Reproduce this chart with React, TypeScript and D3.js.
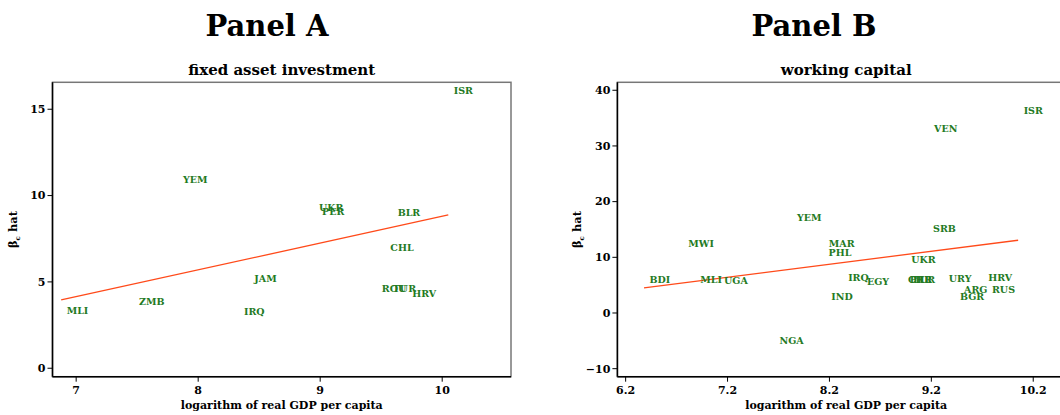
import React from "react";
import * as d3 from "d3";

// ---------- data ----------
const panelACountries = ["ISR", "YEM", "UKR", "PER", "BLR", "CHL", "JAM", "ROU", "TUR", "HRV", "ZMB", "MLI", "IRQ"];
const panelAX = [10.05, 7.83, 8.945, 8.97, 9.59, 9.53, 8.415, 9.46, 9.55, 9.71, 7.47, 6.877, 8.33];
const panelAY = [16.1, 10.94, 9.3, 9.05, 9.03, 6.98, 5.19, 4.61, 4.61, 4.34, 3.88, 3.36, 3.3];

const panelBCountries = ["ISR", "VEN", "YEM", "SRB", "MWI", "MAR", "PHL", "UKR", "BDI", "MLI", "UGA", "IRQ", "EGY", "CHL", "PER", "TUR", "URY", "HRV", "ARG", "RUS", "BGR", "IND", "NGA"];
const panelBX = [10.052, 9.173, 7.827, 9.163, 6.761, 8.14, 8.137, 8.949, 6.38, 6.878, 7.112, 8.33, 8.514, 8.916, 8.935, 8.955, 9.317, 9.704, 9.467, 9.741, 9.427, 8.164, 7.656];
const panelBY = [36.4, 33.19, 17.2, 15.21, 12.39, 12.52, 10.9, 9.65, 6.06, 6.06, 5.88, 6.41, 5.58, 6.06, 6.06, 6.06, 6.23, 6.41, 4.26, 4.26, 2.99, 2.99, -4.89];

const panelATicksX = [7, 8, 9, 10];
const panelATicksY = [0, 5, 10, 15];
const panelBTicksX = [6.2, 7.2, 8.2, 9.2, 10.2];
const panelBTicksY = [-10, 0, 10, 20, 30, 40];

const panelTitles = ["Panel A", "Panel B"];
const panelSubtitles = ["fixed asset investment", "working capital"];
const xAxisTitle = "logarithm of real GDP per capita";

// ---------- style ----------
const FONT = "'DejaVu Serif', 'Liberation Serif', serif";
const GREEN = "#237a23";
const FIT = "#ff4a1a";

function ols(xs: number[], ys: number[]) {
  const mx = d3.mean(xs)!;
  const my = d3.mean(ys)!;
  let sxy = 0, sxx = 0;
  xs.forEach((x, i) => {
    sxy += (x - mx) * (ys[i] - my);
    sxx += (x - mx) * (x - mx);
  });
  const b = sxy / sxx;
  return { a: my - b * mx, b };
}

type PanelProps = {
  offsetX: number;
  title: string;
  subtitle: string;
  countries: string[];
  xs: number[];
  ys: number[];
  xTicks: number[];
  yTicks: number[];
  xDomain: [number, number];
  yDomain: [number, number];
  frame: { x0: number; x1: number; y0: number; y1: number };
  tickFmt: (v: number) => string;
};

function Panel(p: PanelProps) {
  const { frame } = p;
  const x = d3.scaleLinear().domain(p.xDomain).range([frame.x0, frame.x1]);
  const y = d3.scaleLinear().domain(p.yDomain).range([frame.y1, frame.y0]);
  const fit = ols(p.xs, p.ys);
  const [xmin, xmax] = d3.extent(p.xs) as [number, number];
  const line = d3.line<number>().x((d) => x(d)).y((d) => y(fit.a + fit.b * d));
  const cx = (frame.x0 + frame.x1) / 2;
  const cy = (frame.y0 + frame.y1) / 2;
  return (
    <g>
      <text x={p.offsetX + 267} y={36} textAnchor="middle" fontFamily={FONT} fontWeight="bold" fontSize={29}>
        {p.title}
      </text>
      <text x={cx} y={75} textAnchor="middle" fontFamily={FONT} fontWeight="bold" fontSize={15}>
        {p.subtitle}
      </text>
      {/* plot region border */}
      <rect x={frame.x0} y={frame.y0} width={frame.x1 - frame.x0} height={frame.y1 - frame.y0} fill="none" stroke="#777" strokeWidth={1.5} />
      {/* axes */}
      <line x1={frame.x0} x2={frame.x0} y1={frame.y0} y2={frame.y1} stroke="#000" strokeWidth={1.5} />
      <line x1={frame.x0} x2={frame.x1} y1={frame.y1} y2={frame.y1} stroke="#000" strokeWidth={1.5} />
      {p.yTicks.map((t) => (
        <g key={"y" + t}>
          <line x1={frame.x0 - 5} x2={frame.x0} y1={y(t)} y2={y(t)} stroke="#000" strokeWidth={1} />
          <text x={frame.x0 - 7} y={y(t)} dy="0.35em" textAnchor="end" fontFamily={FONT} fontWeight="bold" fontSize={11}>
            {p.tickFmt(t)}
          </text>
        </g>
      ))}
      {p.xTicks.map((t) => (
        <g key={"x" + t}>
          <line x1={x(t)} x2={x(t)} y1={frame.y1} y2={frame.y1 + 5} stroke="#000" strokeWidth={1} />
          <text x={x(t)} y={frame.y1 + 17} textAnchor="middle" fontFamily={FONT} fontWeight="bold" fontSize={11}>
            {p.tickFmt(t)}
          </text>
        </g>
      ))}
      <text x={cx} y={frame.y1 + 32} textAnchor="middle" fontFamily={FONT} fontWeight="bold" fontSize={11}>
        {xAxisTitle}
      </text>
      <text transform={`translate(${frame.x0 - 36},${cy}) rotate(-90)`} textAnchor="middle" fontFamily={FONT} fontWeight="bold" fontSize={11.5}>
        β<tspan fontSize={7} dy={3}>c</tspan>
        <tspan dy={-3}> hat</tspan>
      </text>
      <path d={line([xmin, xmax]) || ""} fill="none" stroke={FIT} strokeWidth={1.3} />
      {p.countries.map((c, i) => (
        <text key={c + i} x={x(p.xs[i]) + 5.5} y={y(p.ys[i])} dy="0.35em" fontFamily={FONT} fontWeight="bold" fontSize={9.5} fill={GREEN}>
          {c}
        </text>
      ))}
    </g>
  );
}

export default function App() {
  return (
    <svg width={1060} height={415} style={{ position: "absolute", left: 0, top: 0, background: "#fff" }}>
      <rect width={1060} height={415} fill="#fff" />
      <Panel
        offsetX={0}
        title={panelTitles[0]}
        subtitle={panelSubtitles[0]}
        countries={panelACountries}
        xs={panelAX}
        ys={panelAY}
        xTicks={panelATicksX}
        yTicks={panelATicksY}
        xDomain={[6.806, 10.564]}
        yDomain={[-0.49, 16.56]}
        frame={{ x0: 52.5, x1: 511, y0: 82.3, y1: 376.7 }}
        tickFmt={(v) => String(v)}
      />
      <Panel
        offsetX={547}
        title={panelTitles[1]}
        subtitle={panelSubtitles[1]}
        countries={panelBCountries}
        xs={panelBX}
        ys={panelBY}
        xTicks={panelBTicksX}
        yTicks={panelBTicksY}
        xDomain={[6.119, 10.61]}
        yDomain={[-11.44, 41.43]}
        frame={{ x0: 617.4, x1: 1075, y0: 82.3, y1: 376.7 }}
        tickFmt={(v) => d3.format(".1f")(v).replace(/\.0$/, "")}
      />
    </svg>
  );
}
